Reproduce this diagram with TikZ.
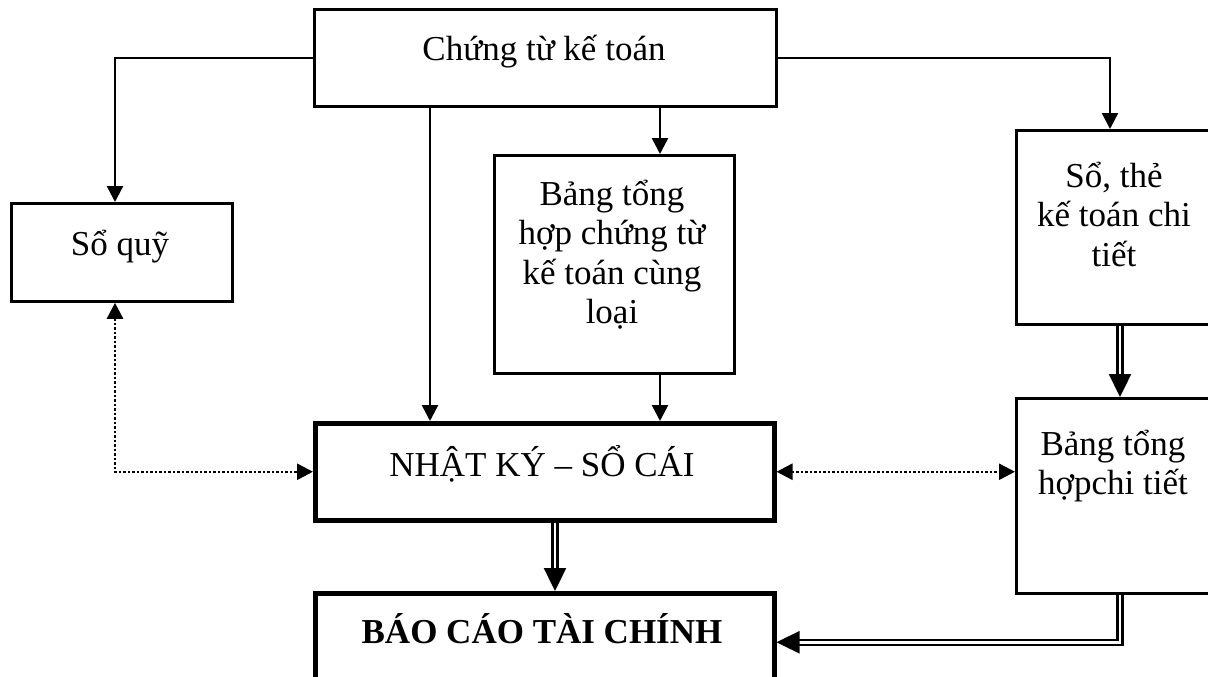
\documentclass[tikz,border=0pt]{standalone}
\usepackage{fontspec}
\setmainfont{Liberation Serif}
\usetikzlibrary{arrows.meta}
\begin{document}
\begin{tikzpicture}[x=1pt,y=-1pt,
  box/.style={draw,line width=2.8pt,rectangle,anchor=north west,inner sep=0pt},
  heavybox/.style={box,line width=4.5pt},
  txt/.style={anchor=base,align=center,inner sep=0pt,font=\fontsize{35}{39.5}\selectfont},
  flow/.style={line width=2.5pt,-{Triangle[length=16pt,width=16pt]}},
  dotflow/.style={line width=2.5pt,dash pattern=on 2.5pt off 2pt,{Triangle[length=16pt,width=16pt]}-{Triangle[length=16pt,width=16pt]}},
  dblflow/.style={double,line width=2.4pt,double distance=2.6pt,-{Triangle[length=23pt,width=22pt]}}]
\clip (0,0) rectangle (1208,677);
\useasboundingbox (0,0) rectangle (1208,677);
% boxes
\node[box,minimum width=462pt,minimum height=97pt] (ct) at (313,8) {};
\node[box,minimum width=221pt,minimum height=98pt] (sq) at (10,202) {};
\node[box,minimum width=240pt,minimum height=218pt] (bth) at (493,154) {};
\node[box,minimum width=195pt,minimum height=194pt] (sct) at (1015,129) {};
\node[heavybox,minimum width=459pt,minimum height=97pt] (nk) at (313,421) {};
\node[box,minimum width=195pt,minimum height=195pt] (bct) at (1015,397) {};
\node[heavybox,minimum width=459pt,minimum height=98pt] (bc) at (313,591) {};
% labels (anchored on the baseline of the last line)
\node[txt] (ct-t) at (544,60) {Chứng từ kế toán};
\node[txt] (sq-t) at (120,255) {Sổ quỹ};
\node[txt] (bth-t) at (612,323.5) {Bảng tổng\\hợp chứng từ\\kế toán cùng\\loại};
\node[txt] (sct-t) at (1114,266) {Sổ, thẻ\\kế toán chi\\tiết};
\node[txt] (nk-t) at (542,476) {NHẬT KÝ – SỔ CÁI};
\node[txt] (bct-t) at (1113,494.5) {Bảng tổng\\hợpchi tiết};
\node[txt,font=\fontsize{35}{39.5}\selectfont\bfseries] (bc-t) at (542,643) {BÁO CÁO TÀI CHÍNH};
% vertical guide columns
\coordinate (c0) at (115,0);
\coordinate (c1) at (430,0);
\coordinate (c2) at (660,0);
\coordinate (c3) at (1120,0);
\coordinate (c4) at (555,0);
\coordinate (c5) at (1110,0);
% connectors
\draw[flow] (ct.west) -| (sq.north -| c0);
\draw[flow] (ct.east) -| (sct.north -| c5);
\draw[flow] (ct.south -| c1) -- (nk.north -| c1);
\draw[flow] (ct.south -| c2) -- (bth.north -| c2);
\draw[flow] (bth.south -| c2) -- (nk.north -| c2);
\draw[dotflow] (sq.south -| c0) |- (nk.west);
\draw[dotflow] (nk.east) -- (nk.east -| bct.west);
\draw[dblflow] (sct.south -| c3) -- (bct.north -| c3);
\draw[dblflow] (nk.south -| c4) -- (bc.north -| c4);
\draw[dblflow] (bct.south -| c3) |- (bc.east);
\end{tikzpicture}
\end{document}
